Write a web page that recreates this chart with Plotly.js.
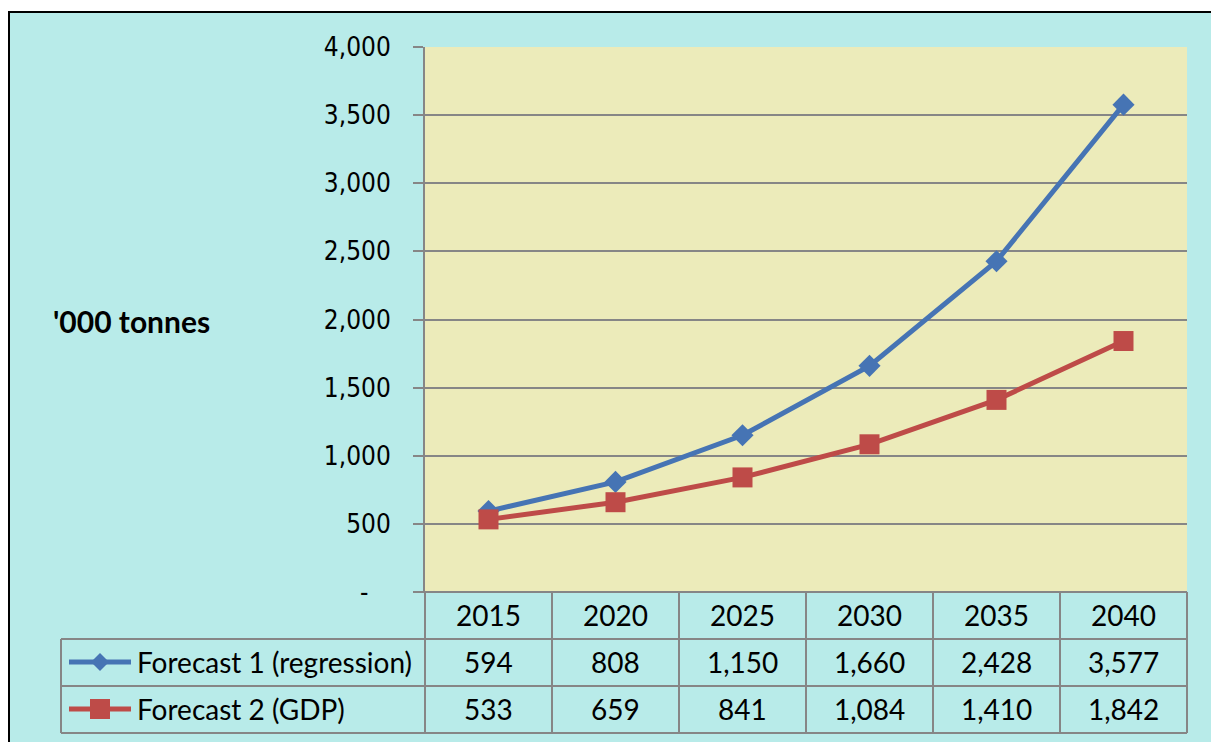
<!DOCTYPE html>
<html>
<head>
<meta charset="utf-8">
<script src="https://cdn.plot.ly/plotly-3.0.1.min.js"></script>
<style>html,body{margin:0;padding:0;background:#fff;}#chart{width:1211px;height:742px;}</style>
</head>
<body>
<div id="chart"></div>
<script>
// ---- data ----
const years = ['2015', '2020', '2025', '2030', '2035', '2040'];
const seriesNames = ['Forecast 1 (regression)', 'Forecast 2 (GDP)'];
const forecast1 = [594, 808, 1150, 1660, 2428, 3577];
const forecast2 = [533, 659, 841, 1084, 1410, 1842];
const yTickVals = [0, 500, 1000, 1500, 2000, 2500, 3000, 3500, 4000];
const yTickText = ['-\u00a0\u00a0\u00a0', '500', '1,000', '1,500', '2,000', '2,500', '3,000', '3,500', '4,000'];
const yTitle = "'000 tonnes";

// ---- layout geometry ----
const W = 1211, H = 742;
const L = 425, R = 1187, T = 47, B = 592;
const px = x => (x - L) / (R - L);
const py = y => (B - y) / (B - T);
const colW = (R - L) / years.length;
const colCenter = i => px(L + (i + 0.5) * colW);

const blue = '#4674B4', red = '#BE4B48';
const cyan = '#B8EBE9', yellow = '#ECEBBA', gridGray = '#868686';
const fmt = v => v.toLocaleString('en-US');

const traces = [
  {x: years, y: forecast1, name: seriesNames[0], type: 'scatter', mode: 'lines+markers',
   line: {color: blue, width: 5}, marker: {symbol: 'diamond', size: 17, color: blue}},
  {x: years, y: forecast2, name: seriesNames[1], type: 'scatter', mode: 'lines+markers',
   line: {color: red, width: 5}, marker: {symbol: 'square', size: 20, color: red}}
];

const shapes = [];
shapes.push({type: 'rect', xref: 'paper', yref: 'paper', layer: 'below',
  x0: px(9), x1: px(1260), y0: py(790), y1: py(12),
  fillcolor: cyan, line: {color: '#000', width: 2}});
shapes.push({type: 'rect', xref: 'paper', yref: 'paper', layer: 'below',
  x0: 0, x1: 1, y0: 0, y1: 1, fillcolor: yellow, line: {width: 0}});

const rowY = [592, 639, 686, 733];
const gl = {color: gridGray, width: 2};
shapes.push({type: 'line', xref: 'paper', yref: 'paper', x0: px(415), x1: 1, y0: 0, y1: 0, line: gl});
for (let i = 1; i < rowY.length; i++) {
  shapes.push({type: 'line', xref: 'paper', yref: 'paper', x0: px(61), x1: 1, y0: py(rowY[i]), y1: py(rowY[i]), line: gl});
}
for (let i = 0; i <= years.length; i++) {
  const xx = px(L + i * colW);
  shapes.push({type: 'line', xref: 'paper', yref: 'paper', x0: xx, x1: xx, y0: py(592), y1: py(733), line: gl});
}
shapes.push({type: 'line', xref: 'paper', yref: 'paper', x0: px(61), x1: px(61), y0: py(639), y1: py(733), line: gl});

const keyY = [662, 709];
const keyColors = [blue, red];
keyY.forEach((yy, i) => {
  shapes.push({type: 'line', xref: 'paper', yref: 'paper', x0: px(69), x1: px(131), y0: py(yy), y1: py(yy),
    line: {color: keyColors[i], width: 5}});
});
shapes.push({type: 'path', xref: 'paper', yref: 'paper',
  path: `M ${px(100)} ${py(662-9)} L ${px(109)} ${py(662)} L ${px(100)} ${py(662+9)} L ${px(91)} ${py(662)} Z`,
  fillcolor: blue, line: {width: 0}});
shapes.push({type: 'rect', xref: 'paper', yref: 'paper', x0: px(90), x1: px(110), y0: py(719), y1: py(699),
  fillcolor: red, line: {width: 0}});

const tableFont = {family: 'Lato, "Open Sans", sans-serif', size: 28, color: '#000'};
const annotations = [];
years.forEach((yr, i) => {
  const cx = colCenter(i);
  annotations.push({xref: 'paper', yref: 'paper', x: cx, y: py(615), text: yr, showarrow: false, font: tableFont, xanchor: 'center', yanchor: 'middle'});
  annotations.push({xref: 'paper', yref: 'paper', x: cx, y: py(662), text: fmt(forecast1[i]), showarrow: false, font: tableFont, xanchor: 'center', yanchor: 'middle'});
  annotations.push({xref: 'paper', yref: 'paper', x: cx, y: py(709), text: fmt(forecast2[i]), showarrow: false, font: tableFont, xanchor: 'center', yanchor: 'middle'});
});
seriesNames.forEach((n, i) => {
  annotations.push({xref: 'paper', yref: 'paper', x: px(135), y: py(keyY[i]), text: n, showarrow: false, font: tableFont, xanchor: 'left', yanchor: 'middle'});
});
annotations.push({xref: 'paper', yref: 'paper', x: px(51), y: py(321), text: '<b>' + yTitle + '</b>', showarrow: false,
  font: {family: 'Lato, "Open Sans", sans-serif', size: 30, color: '#000'}, xanchor: 'left', yanchor: 'middle'});

const layout = {
  width: W, height: H,
  margin: {l: L, r: W - R, t: T, b: H - B, pad: 0},
  paper_bgcolor: '#ffffff',
  plot_bgcolor: 'rgba(0,0,0,0)',
  showlegend: false,
  xaxis: {type: 'category', categoryorder: 'array', categoryarray: years, range: [-0.5, years.length - 0.5],
    showticklabels: false, showgrid: false, zeroline: false, showline: false, ticks: ''},
  yaxis: {range: [0, 4000], tickmode: 'array', tickvals: yTickVals, ticktext: yTickText,
    showgrid: true, gridcolor: gridGray, gridwidth: 2, zeroline: false,
    showline: true, linecolor: gridGray, linewidth: 2,
    ticks: 'outside', ticklen: 10, tickwidth: 2, tickcolor: gridGray, ticklabelstandoff: 17,
    tickfont: {family: '"DejaVu Sans Condensed", "Liberation Sans", sans-serif', size: 26, color: '#000'}},
  shapes: shapes,
  annotations: annotations
};

Plotly.newPlot('chart', traces, layout, {displayModeBar: false, staticPlot: true});
</script>
</body>
</html>
